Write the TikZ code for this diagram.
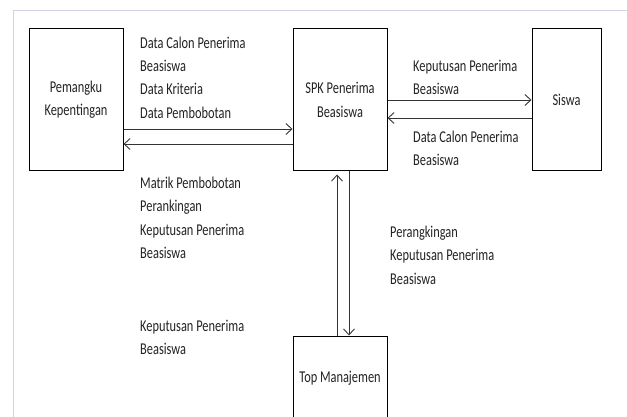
\documentclass[tikz,border=0pt]{standalone}
\usepackage{fontspec}
\setmainfont{Carlito}[FakeStretch=0.75]
\usetikzlibrary{arrows.meta}
\definecolor{framegray}{RGB}{208,212,228}
\definecolor{inkgray}{RGB}{35,35,35}
\newcommand\dfdfont{\fontsize{16.5}{23.3}\selectfont}
\tikzset{
  entity/.style={draw=black, line width=1pt, inner sep=0pt, align=center,
                 font=\dfdfont, text=inkgray},
  flow/.style={draw=black!80, line width=0.9pt,
               -{Straight Barb[length=6pt,width=11pt]}},
  % labels are placed by the baseline of their last line
  flowlabel/.style={anchor=base west, inner sep=0pt, align=left,
                    font=\dfdfont, text=inkgray},
}
\begin{document}
\begin{tikzpicture}[x=1pt,y=-1pt]
  \clip (0,0) rectangle (627,417);
  \fill[white] (0,0) rectangle (627,417);
  % page frame
  \draw[framegray, line width=1pt] (13,417) -- (13,11) -- (627,11);

  % external entities and process
  \node[entity, minimum width=94pt, minimum height=142pt] (pk) at (76,100)
    {Pemangku\\Kepentingan};
  \node[entity, minimum width=94pt, minimum height=142pt] (spk) at (340,100)
    {SPK Penerima\\Beasiswa};
  \node[entity, minimum width=69pt, minimum height=142pt] (siswa) at (566.5,100)
    {Siswa};
  \node[entity, minimum width=94pt, minimum height=84pt] (tm) at (340,378)
    {Top Manajemen};

  % data flows
  \draw[flow] ([yshift=-29pt]pk.east) -- ([yshift=-29pt]spk.west);
  \draw[flow] ([yshift=-44pt]spk.west) -- ([yshift=-44pt]pk.east);
  \draw[flow] (spk.east) -- (siswa.west);
  \draw[flow] ([yshift=-18pt]siswa.west) -- ([yshift=-18pt]spk.east);
  \draw[flow, shorten >=3pt] ([xshift=-3pt]tm.north) -- ([xshift=-3pt]spk.south);
  \draw[flow] ([xshift=9pt]spk.south) -- ([xshift=9pt]tm.north);

  % flow labels
  \node[flowlabel] (lin) at (140,118.2)
    {Data Calon Penerima\\Beasiswa\\Data Kriteria\\Data Pembobotan};
  \node[flowlabel] (lout) at (140,258.4)
    {Matrik Pembobotan\\Perankingan\\Keputusan Penerima\\Beasiswa};
  \node[flowlabel] (ltm) at (140,354.3)
    {Keputusan Penerima\\Beasiswa};
  \node[flowlabel] (sout) at (413,94.8)
    {Keputusan Penerima\\Beasiswa};
  \node[flowlabel] (sin) at (413,165.8)
    {Data Calon Penerima\\Beasiswa};
  \node[flowlabel] (tmin) at (390,284.1)
    {Perangkingan\\Keputusan Penerima\\Beasiswa};
\end{tikzpicture}
\end{document}
